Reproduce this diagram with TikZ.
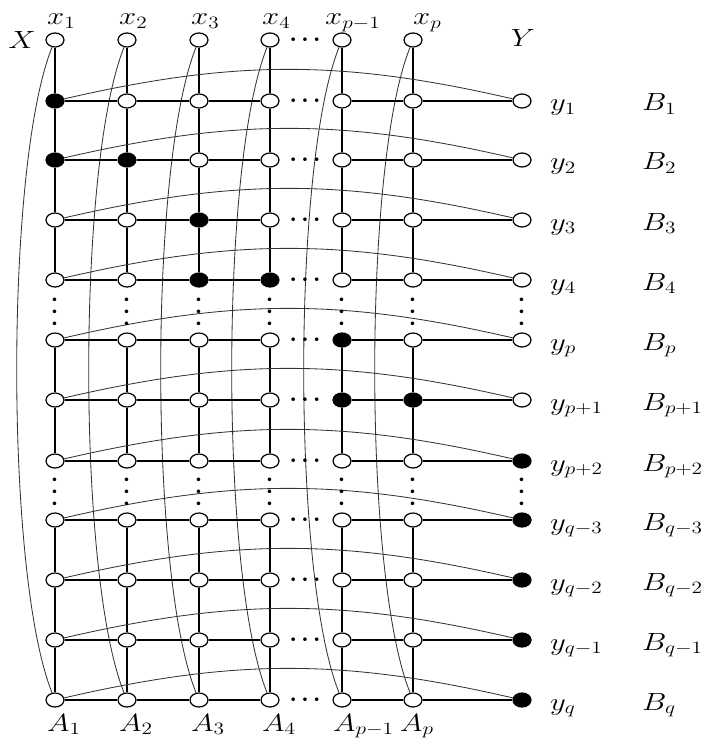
\documentclass[tikz,border=0pt]{standalone}
\usepackage{graphicx}
\usetikzlibrary{shapes.geometric,backgrounds}
\newcommand{\hs}[1]{\scalebox{1.33}[1.08]{$#1$}}
\begin{document}
\begin{tikzpicture}[x=0.9pt,y=-0.9pt,
  v/.style={ellipse,draw,line width=1.1pt,fill=white,minimum width=16.2pt,minimum height=12.6pt,inner sep=0pt},
  thk/.style={line width=2.1pt},
  thn/.style={line width=0.75pt,black!80},
  lbl/.style={font=\huge,inner sep=0pt},
  dts/.style={font=\huge\boldmath,inner sep=0pt},
  s1-1/.style={fill=black}, s2-1/.style={fill=black}, s2-2/.style={fill=black},
  s3-3/.style={fill=black}, s4-3/.style={fill=black}, s4-4/.style={fill=black},
  s5-5/.style={fill=black}, s6-5/.style={fill=black}, s6-6/.style={fill=black},
  sy7/.style={fill=black}, sy8/.style={fill=black}, sy9/.style={fill=black},
  sy10/.style={fill=black}, sy11/.style={fill=black}]
\useasboundingbox (0,0) rectangle (708,738);
% grid nodes
\foreach \c/\x in {1/55,2/127,3/199,4/270,5/342,6/413}{
  \node[v] (x\c) at (\x,40) {};
  \foreach \r/\y in {1/101,2/160,3/220,4/280,5/340,6/400,7/461,8/520,9/580,10/640,11/700}{
    \node[v,s\r-\c/.try] (n\r-\c) at (\x,\y) {};
  }
}
\foreach \r/\y in {1/101,2/160,3/220,4/280,5/340,6/400,7/461,8/520,9/580,10/640,11/700}{
  \node[v,sy\r/.try] (y\r) at (522,\y) {};
  \node[dts] (hd\r) at (305,\y) {$\cdots$};
}
\node[dts] (hd0) at (305,40) {$\cdots$};
% vertical dots
\foreach \c/\x in {1/55,2/127,3/199,4/270,5/342,6/413,7/522}{
  \node[dts,rotate=90] (vda\c) at (\x,312) {$\cdots$};
  \node[dts,rotate=90] (vdb\c) at (\x,492) {$\cdots$};
}
% connectors
\begin{scope}[on background layer]
  \foreach \c in {1,...,6}{
    \draw[thk] (x\c) -- (n1-\c);
    \foreach \r/\s in {1/2,2/3,3/4,5/6,6/7,8/9,9/10,10/11}
      \draw[thk] (n\r-\c) -- (n\s-\c);
    \draw[thn] (x\c) to[bend right=22,looseness=0.5] (n11-\c);
  }
  \foreach \r in {1,...,11}{
    \draw[thk] (n\r-1) -- (n\r-2) -- (n\r-3) -- (n\r-4);
    \draw[thk] (n\r-5) -- (n\r-6) -- (y\r);
    \draw[thn] (n\r-1) to[bend left=13] (y\r);
  }
\end{scope}
% labels
\node[lbl,anchor=base] (lX) at (22,49) {\hs{X}};
\node[lbl,anchor=base] (lY) at (523,47) {\hs{Y}};
\foreach \c/\x/\t in {1/47/1,2/119/2,3/191/3,4/262/4,5/325/{p-1},6/413/p}
  \node[lbl,anchor=base west] (lx\c) at (\x,25) {\hs{x_{\t}}};
\foreach \c/\x/\t in {1/47/1,2/119/2,3/191/3,4/262/4,5/333/{p-1},6/400/p}
  \node[lbl,anchor=base west] (lA\c) at (\x,731) {\hs{A_{\t}}};
\foreach \r/\y/\t in {1/101/1,2/160/2,3/220/3,4/280/4,5/340/p,6/400/{p+1},7/461/{p+2},8/520/{q-3},9/580/{q-2},10/640/{q-1},11/700/q}{
  \node[lbl,anchor=base west] (ly\r) at (550,\y+10) {\hs{y_{\t}}};
  \node[lbl,anchor=base west] (lB\r) at (642,\y+10) {\hs{B_{\t}}};
}
\end{tikzpicture}
\end{document}
